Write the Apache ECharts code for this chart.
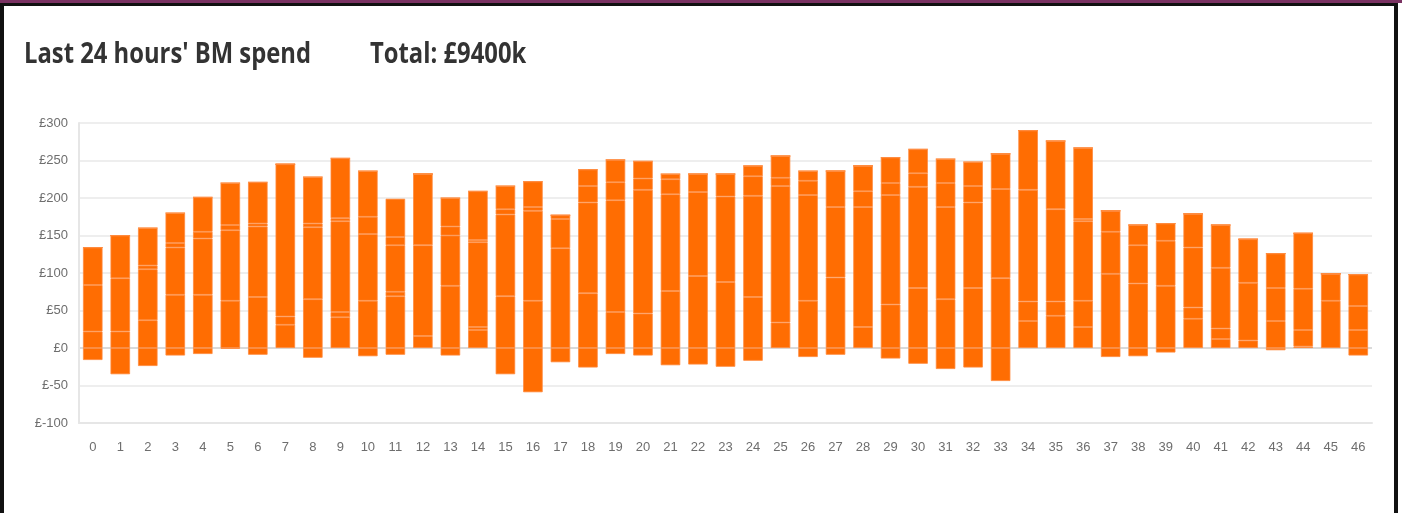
<!DOCTYPE html>
<html>
<head>
<meta charset="utf-8">
<script src="https://cdn.jsdelivr.net/npm/echarts@6/dist/echarts.min.js"></script>
<style>
  html, body { margin: 0; padding: 0; width: 1402px; height: 513px; overflow: hidden; background: #fff; }
  #topband { position: absolute; left: 0; top: 0; width: 1402px; height: 3px; background: #7a3262; }
  #frame { position: absolute; left: 0; top: 3px; width: 1398px; height: 520px; box-sizing: border-box;
           border-top: 3px solid #111; border-left: 4px solid #111; border-right: 4px solid #111; }
  #chart { position: absolute; left: 0; top: 0; width: 1402px; height: 513px; }
  .ttl { position: absolute; top: 34px; font-family: 'Open Sans', sans-serif; font-weight: 700; font-size: 28px;
         line-height: 36px; color: #333; white-space: nowrap; transform: scaleX(0.85); transform-origin: 0 0; }
</style>
</head>
<body>
<div id="topband"></div>
<div id="frame"></div>
<div id="chart"></div>
<div class="ttl" style="left:24px">Last 24 hours' BM spend</div>
<div class="ttl" style="left:370px">Total: £9400k</div>
<script>
const categories = ['0','1','2','3','4','5','6','7','8','9','10','11','12','13','14','15','16','17','18','19','20','21','22','23','24','25','26','27','28','29','30','31','32','33','34','35','36','37','38','39','40','41','42','43','44','45','46'];

// positive stacked segments (bottom to top), £k
const seg1 = [22,22,37,71,71,63,68,31,65,41,63,69,16,83,24,69,63,133,73,48,46,76,96,88,68,34,63,94,28,58,80,65,80,93,36,43,28,99,86,83,39,12,10,36,2,63,24];
const seg2 = [62,71,68,63,75,94,94,11,96,7,89,6,121,67,4,109,120,39,121,149,165,129,112,114,135,182,141,94,160,146,135,123,114,119,26,19,35,56,51,60,15,14,77,44,22,36,32];
const seg3 = [50,57,5,6,9,7,4,203,5,121,23,62,95,12,113,7,5,5,22,24,15,20,24,30,26,11,19,48,21,16,18,32,22,47,149,123,106,28,27,23,80,81,58,46,55,0,42];
const seg4 = [0,0,50,40,46,56,55,0,62,4,61,11,0,38,3,31,34,0,22,30,23,7,0,0,14,29,13,0,34,34,32,32,32,0,79,91,3,0,0,0,45,57,0,0,74,0,0];
const seg5 = [0,0,0,0,0,0,0,0,0,80,0,51,0,0,65,0,0,0,0,0,0,0,0,0,0,0,0,0,0,0,0,0,0,0,0,0,95,0,0,0,0,0,0,0,0,0,0];
// negative segment
const negative = [-16,-35,-24,-10,-8,-1,-9,0,-13,0,-11,-9,0,-10,0,-35,-59,-19,-26,-8,-10,-23,-22,-25,-17,0,-12,-9,0,-14,-21,-28,-26,-44,0,0,0,-12,-11,-6,0,0,0,-3,0,0,-10];

const yTicks = { min: -100, max: 300, interval: 50 };

const barColor = '#ff6d02';
function makeSeries(name, data) {
  return {
    name: name,
    type: 'bar',
    stack: 'spend',
    data: data,
    barWidth: '71%',
    itemStyle: { color: barColor, borderColor: '#ff8a3e', borderWidth: 0.8 },
    emphasis: { disabled: true }
  };
}

const chart = echarts.init(document.getElementById('chart'), null, { renderer: 'canvas' });
chart.setOption({
  animation: false,
  backgroundColor: 'transparent',
  grid: { left: 79, right: 30, top: 123, bottom: 90, containLabel: false },
  xAxis: {
    type: 'category',
    data: categories,
    axisLine: { onZero: false, lineStyle: { color: '#e6e6e6', width: 2 } },
    axisTick: { show: false },
    axisLabel: { color: '#6e6e6e', fontFamily: 'Liberation Sans', fontSize: 13, margin: 18 }
  },
  yAxis: {
    type: 'value',
    min: yTicks.min, max: yTicks.max, interval: yTicks.interval,
    axisLine: { show: true, lineStyle: { color: '#e6e6e6', width: 2 } },
    axisTick: { show: false },
    axisLabel: { color: '#6e6e6e', fontFamily: 'Liberation Sans', fontSize: 13, margin: 11,
                 formatter: function (v) { return '£' + v; } },
    splitLine: { lineStyle: { color: ['#eeeeee','#eeeeee','#dadada','#eeeeee','#eeeeee','#eeeeee','#eeeeee','#eeeeee','#eeeeee'], width: 2 } }
  },
  series: [
    makeSeries('s1', seg1),
    makeSeries('s2', seg2),
    makeSeries('s3', seg3),
    makeSeries('s4', seg4),
    makeSeries('s5', seg5),
    makeSeries('neg', negative)
  ]
});
</script>
</body>
</html>
